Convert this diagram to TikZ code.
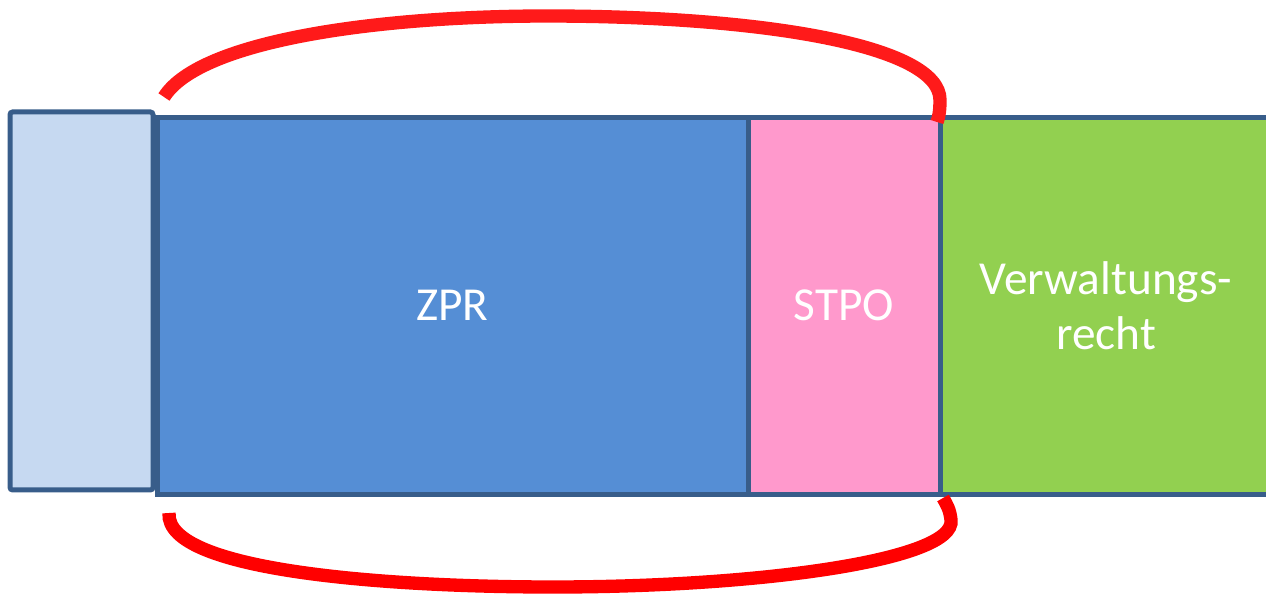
\documentclass[tikz,border=0pt]{standalone}
\usepackage{fontspec}
\setmainfont{Carlito}
\usepackage{tikz}
\usetikzlibrary{positioning}
\definecolor{rahmen}{HTML}{385D8A}
\definecolor{hellblau}{HTML}{C6D9F1}
\definecolor{blau}{HTML}{558ED5}
\definecolor{rosa}{HTML}{FF99CC}
\definecolor{gruen}{HTML}{92D050}
\definecolor{bogenrot}{HTML}{FF1A1A}
\tikzset{x=0.75pt, y=-0.75pt,
         node distance=0pt,
         feld/.style={draw=rahmen, line width=3.75pt, outer sep=0pt,
                      minimum height=282.75pt, text=white, align=center,
                      font=\fontsize{35.5}{41.5}\selectfont},
         bogen/.style={line width=10pt},
         }

\begin{document}
\begin{tikzpicture}
    \useasboundingbox (0,0) rectangle (1266,596);

    \node[feld, fill=blau, minimum width=443.25pt, anchor=north west] (zpr) at (157,117) {ZPR};
    \node[feld, fill=rosa, minimum width=144pt, right=of zpr] (stpo) {STPO};
    \node[feld, fill=gruen, minimum width=249pt, right=of stpo] (verw) {Verwaltungs-\\recht};
    \node[feld, fill=hellblau, minimum width=107.25pt, minimum height=283.5pt,
          rounded corners=2pt, left=3pt of zpr, yshift=3.4pt] (leer) {};

    % Klammer oben und unten
    \coordinate (o1) at ([shift={(7,-20)}]zpr.north west);
    \coordinate (o2) at ([shift={(-3,5)}]stpo.north east);
    \coordinate (u1) at ([shift={(12,19)}]zpr.south west);
    \coordinate (u2) at ([shift={(3,4)}]stpo.south east);
    \draw[bogen, bogenrot] (o1) .. controls (200,40) and (380,16) .. (547,16)
        .. controls (760,16) and (940,45) .. (940,100)
        .. controls (940,110) and (939,117) .. (o2);
    \draw[bogen, red] (u1) .. controls (165,573) and (400,587) .. (553,587)
        .. controls (760,587) and (956,560) .. (951,520)
        .. controls (950,510) and (947,505) .. (u2);
\end{tikzpicture}
\end{document}
